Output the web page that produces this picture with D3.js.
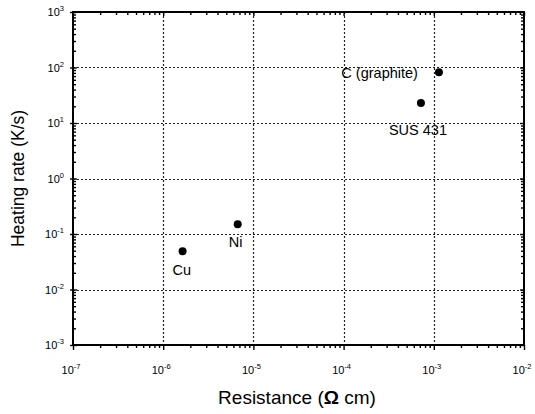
<html>
<head>
  <script src="https://d3js.org/d3.v7.min.js"></script>
  <style>
    html, body { margin: 0; background: #fff; }
    text { font-family: "Liberation Sans", Arial, sans-serif; fill: #000; }
  </style>
</head>
<body>
<script>
  var materials = ['Cu', 'Ni', 'SUS 431', 'C (graphite)'];
  var resistance = [1.64e-6, 6.7e-6, 7.2e-4, 1.14e-3];
  var heatingRate = [0.049, 0.15, 23, 82];
  var xTickExp = [-7, -6, -5, -4, -3, -2];
  var yTickExp = [-3, -2, -1, 0, 1, 2, 3];

  // label offsets relative to point (px)
  var labelOffsets = [[-10, 24, 'start'], [-9, 23, 'start'], [-32, 32, 'start'], [-21, 6, 'end']];

  var width = 535, height = 414;
  var pLeft = 73, pRight = 524, pTop = 12, pBottom = 345;

  var svg = d3.select('body').append('svg')
    .attr('width', width)
    .attr('height', height);

  var x = d3.scaleLog().domain([1e-7, 1e-2]).range([pLeft, pRight]);
  var y = d3.scaleLog().domain([1e-3, 1e3]).range([pBottom, pTop]);

  // grid
  var grid = svg.append('g')
    .attr('stroke', '#222')
    .attr('stroke-width', 1.2)
    .attr('stroke-dasharray', '2,2');
  grid.selectAll('.gx')
    .data(xTickExp.slice(1, -1))
    .enter().append('line')
    .attr('x1', d => Math.round(x(Math.pow(10, d))) + 0.5)
    .attr('x2', d => Math.round(x(Math.pow(10, d))) + 0.5)
    .attr('y1', pTop)
    .attr('y2', pBottom);
  grid.selectAll('.gy')
    .data(yTickExp.slice(1, -1))
    .enter().append('line')
    .attr('y1', d => Math.round(y(Math.pow(10, d))) + 0.5)
    .attr('y2', d => Math.round(y(Math.pow(10, d))) + 0.5)
    .attr('x1', pLeft)
    .attr('x2', pRight);

  // axes with log minor ticks
  function tickFmt() { return ''; }
  var xt = x.ticks();
  var yt = y.ticks();
  function isMajor(v) { return Math.abs(Math.log10(v) - Math.round(Math.log10(v))) < 1e-6; }

  function styleAxis(g) {
    g.select('.domain').remove();
    g.selectAll('.tick line')
      .attr('stroke', '#000')
      .attr('stroke-width', 1.4);
  }

  svg.append('g')
    .attr('transform', 'translate(0,' + pBottom + ')')
    .call(d3.axisBottom(x).tickValues(xt).tickFormat(tickFmt).tickSizeOuter(0))
    .call(styleAxis)
    .selectAll('.tick line').attr('y2', d => isMajor(d) ? 5 : 3);

  svg.append('g')
    .attr('transform', 'translate(0,' + pTop + ')')
    .call(d3.axisBottom(x).tickValues(xt).tickFormat(tickFmt).tickSizeOuter(0))
    .call(styleAxis)
    .selectAll('.tick line').attr('y2', d => isMajor(d) ? 4 : 3);

  svg.append('g')
    .attr('transform', 'translate(' + pLeft + ',0)')
    .call(d3.axisRight(y).tickValues(yt).tickFormat(tickFmt).tickSizeOuter(0))
    .call(styleAxis)
    .selectAll('.tick line').attr('x1', d => isMajor(d) ? -3 : 0).attr('x2', d => isMajor(d) ? 4 : 3);

  svg.append('g')
    .attr('transform', 'translate(' + pRight + ',0)')
    .call(d3.axisLeft(y).tickValues(yt).tickFormat(tickFmt).tickSizeOuter(0))
    .call(styleAxis)
    .selectAll('.tick line').attr('x2', d => isMajor(d) ? -4 : -3);

  // frame
  svg.append('rect')
    .attr('x', pLeft).attr('y', pTop)
    .attr('width', pRight - pLeft).attr('height', pBottom - pTop)
    .attr('fill', 'none')
    .attr('stroke', '#000')
    .attr('stroke-width', 2);

  // tick labels
  var xl = svg.append('g').selectAll('text')
    .data(xTickExp)
    .enter().append('text')
    .attr('x', d => x(Math.pow(10, d)) - 2)
    .attr('y', pBottom + 29)
    .attr('text-anchor', 'middle')
    .style('font-size', '11px');
  xl.append('tspan').text('10');
  xl.append('tspan').attr('dy', -5).style('font-size', '7.5px').text(d => d);

  var yl = svg.append('g').selectAll('text')
    .data(yTickExp)
    .enter().append('text')
    .attr('x', pLeft - 9)
    .attr('y', d => y(Math.pow(10, d)) + 4)
    .attr('text-anchor', 'end')
    .style('font-size', '11px');
  yl.append('tspan').text('10');
  yl.append('tspan').attr('dy', -5).style('font-size', '7.5px').text(d => d);

  // points
  svg.append('g').selectAll('circle')
    .data(materials)
    .enter().append('circle')
    .attr('cx', (d, i) => x(resistance[i]))
    .attr('cy', (d, i) => y(heatingRate[i]))
    .attr('r', 4)
    .attr('fill', '#000');

  svg.append('g').selectAll('text')
    .data(materials)
    .enter().append('text')
    .attr('x', (d, i) => x(resistance[i]) + labelOffsets[i][0])
    .attr('y', (d, i) => y(heatingRate[i]) + labelOffsets[i][1])
    .attr('text-anchor', (d, i) => labelOffsets[i][2])
    .style('font-size', '14.5px')
    .text(d => d);

  // axis titles
  svg.append('text')
    .attr('x', 297)
    .attr('y', 404)
    .attr('text-anchor', 'middle')
    .style('font-size', '19px')
    .html('Resistance (<tspan font-weight="bold">Ω</tspan> cm)');

  svg.append('text')
    .attr('transform', 'translate(24,' + (pTop + pBottom) / 2 + ') rotate(-90)')
    .attr('text-anchor', 'middle')
    .style('font-size', '17.5px')
    .text('Heating rate (K/s)');
</script>
</body>
</html>
